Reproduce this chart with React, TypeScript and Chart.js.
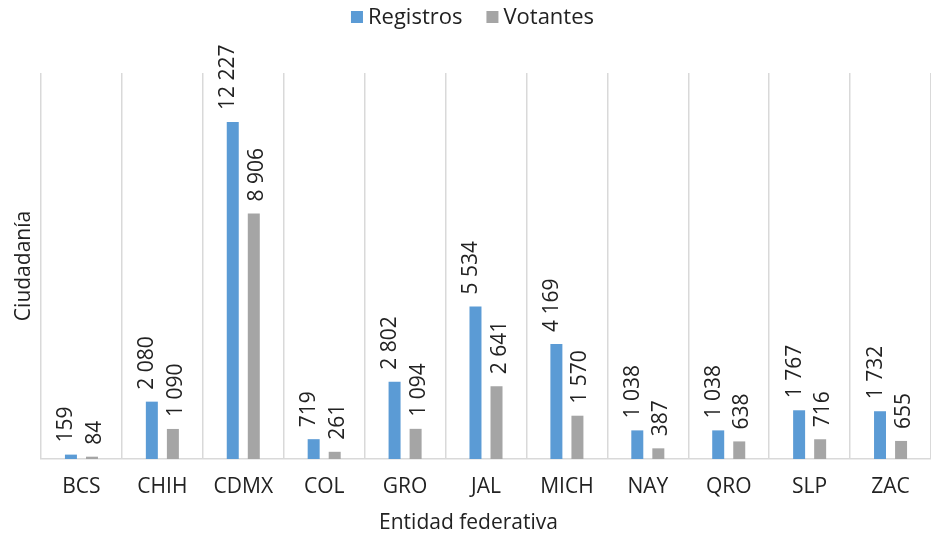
import React, { useEffect, useRef } from "react";
import { Chart, registerables } from "chart.js";

Chart.register(...registerables);

const categories = ["BCS", "CHIH", "CDMX", "COL", "GRO", "JAL", "MICH", "NAY", "QRO", "SLP", "ZAC"];
const registros = [159, 2080, 12227, 719, 2802, 5534, 4169, 1038, 1038, 1767, 1732];
const votantes = [84, 1090, 8906, 261, 1094, 2641, 1570, 387, 638, 716, 655];
const seriesNames = ["Registros", "Votantes"];
const seriesColors = ["#5B9BD5", "#A5A5A5"];
const xTitle = "Entidad federativa";
const yTitle = "Ciudadanía";
const yMax = 14000;

const FONT = "'Open Sans', 'Noto Sans', sans-serif";
const TEXT = "#222222";

function fmt(n: number): string {
  return String(n).replace(/\B(?=(\d{3})+(?!\d))/g, " ");
}

const labelOffsets = [-4.5, 3];

const dataLabels = {
  id: "dataLabels",
  afterDatasetsDraw(chart: any) {
    const ctx = chart.ctx;
    ctx.save();
    ctx.font = `21px ${FONT}`;
    ctx.fillStyle = TEXT;
    ctx.textAlign = "left";
    ctx.textBaseline = "middle";
    chart.data.datasets.forEach((ds: any, di: number) => {
      const meta = chart.getDatasetMeta(di);
      meta.data.forEach((bar: any, i: number) => {
        const v = ds.data[i];
        ctx.save();
        ctx.translate(bar.x + labelOffsets[di], bar.y - 12);
        ctx.rotate(-Math.PI / 2);
        ctx.fillText(fmt(v), 0, 0);
        ctx.restore();
      });
    });
    ctx.restore();
  },
};

// legend + x-axis title centred on the whole canvas (as in the reference)
const extras = {
  id: "extras",
  afterDraw(chart: any) {
    const ctx = chart.ctx;
    ctx.save();
    // legend
    ctx.font = `22px ${FONT}`;
    ctx.textBaseline = "middle";
    ctx.textAlign = "left";
    const box = 12;
    const gap = 5;
    const itemGap = 24;
    const ds = chart.data.datasets;
    const widths = ds.map((d: any) => box + gap + ctx.measureText(d.label).width);
    const total = widths.reduce((a: number, b: number) => a + b, 0) + itemGap * (ds.length - 1);
    let x = chart.width / 2 + 7 - total / 2;
    const cy = 17;
    ds.forEach((d: any, i: number) => {
      ctx.fillStyle = d.backgroundColor;
      ctx.fillRect(x, cy - box / 2, box, box);
      ctx.fillStyle = TEXT;
      ctx.fillText(d.label, x + box + gap, cy + 1);
      x += widths[i] + itemGap;
    });
    // x title
    ctx.font = `21px ${FONT}`;
    ctx.textAlign = "center";
    ctx.fillText(xTitle, chart.width / 2 + 3, 523);
    ctx.restore();
  },
};

export default function App() {
  const ref = useRef<HTMLCanvasElement | null>(null);
  useEffect(() => {
    document.body.style.margin = "0";
    const canvas = ref.current!;
    const chart = new Chart(canvas, {
      type: "bar",
      data: {
        labels: categories,
        datasets: [
          {
            label: seriesNames[0],
            data: registros,
            backgroundColor: seriesColors[0],
            categoryPercentage: 0.52,
            barPercentage: 0.57,
          },
          {
            label: seriesNames[1],
            data: votantes,
            backgroundColor: seriesColors[1],
            categoryPercentage: 0.52,
            barPercentage: 0.57,
          },
        ],
      },
      options: {
        animation: false,
        responsive: false,
        maintainAspectRatio: false,
        layout: { padding: { left: 0, right: 0, top: 73, bottom: 0 } },
        plugins: {
          legend: { display: false },
          tooltip: { enabled: false },
        },
        scales: {
          x: {
            grid: {
              display: true,
              offset: true,
              color: "#d9d9d9",
              lineWidth: 1.5,
              drawTicks: false,
            },
            border: { display: true, color: "#d9d9d9", width: 1.5 },
            ticks: {
              color: TEXT,
              padding: 15,
              font: { family: FONT, size: 21 },
              maxRotation: 0,
              autoSkip: false,
            },
            title: { display: false },
            afterFit(scale: any) {
              scale.height = 79;
            },
          },
          y: {
            min: 0,
            max: yMax,
            grid: { display: false, drawTicks: false },
            border: { display: false },
            ticks: { display: false },
            title: {
              display: true,
              text: yTitle,
              color: TEXT,
              font: { family: FONT, size: 21 },
              padding: { top: 11, bottom: 5 },
            },
            afterFit(scale: any) {
              scale.width = 41;
            },
          },
        },
      },
      plugins: [dataLabels, extras],
    });
    return () => chart.destroy();
  }, []);
  return (
    <div style={{ width: 931, height: 538 }}>
      <canvas ref={ref} width={931} height={538} style={{ display: "block" }} />
    </div>
  );
}
